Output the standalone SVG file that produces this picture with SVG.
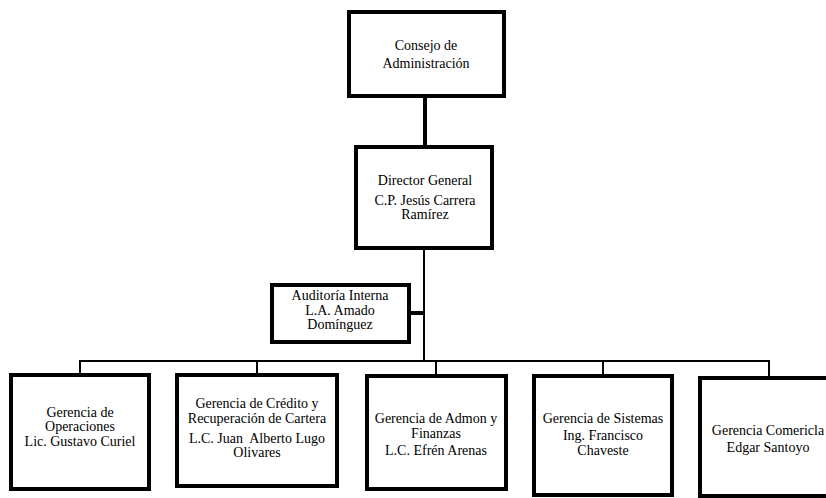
<svg xmlns="http://www.w3.org/2000/svg" width="826" height="498" viewBox="0 0 826 498">
<style>
.box{fill:#fff;stroke:#000;stroke-width:4}
.t{font-family:"Liberation Serif","DejaVu Serif",serif;font-size:14px;fill:#000;text-anchor:middle;white-space:pre}
.c{stroke:#000;fill:none;stroke-width:2}
.ck{stroke:#000;fill:none;stroke-width:4}
</style>
<rect width="826" height="498" fill="#fff"/>
<g id="connectors">
<line class="ck" x1="425" y1="97" x2="425" y2="146"/>
<line class="c" x1="424" y1="249" x2="424" y2="361"/>
<line class="ck" x1="410" y1="313" x2="424" y2="313"/>
<polyline class="c" points="80,374 80,361 769,361 769,376"/>
<line class="c" x1="257" y1="361" x2="257" y2="374"/>
<line class="c" x1="436" y1="361" x2="436" y2="375"/>
<line class="c" x1="603" y1="361" x2="603" y2="375"/>
</g>
<g id="consejo">
<rect class="box" x="349" y="12" width="155" height="84"/>
<text class="t" x="426" y="50">Consejo de</text>
<text class="t" x="426" y="68">Administración</text>
</g>
<g id="director">
<rect class="box" x="356" y="147" width="136" height="101"/>
<text class="t" x="425" y="185">Director General</text>
<text class="t" x="425" y="205">C.P. Jesús Carrera</text>
<text class="t" x="425" y="219">Ramírez</text>
</g>
<g id="auditoria">
<rect class="box" x="272" y="285" width="137" height="57"/>
<text class="t" x="340" y="300">Auditoría Interna</text>
<text class="t" x="340" y="315">L.A. Amado</text>
<text class="t" x="340" y="329">Domínguez</text>
</g>
<g id="operaciones">
<rect class="box" x="11" y="375" width="138" height="114"/>
<text class="t" x="80" y="417">Gerencia de</text>
<text class="t" x="80" y="431">Operaciones</text>
<text class="t" x="80" y="446">Lic. Gustavo Curiel</text>
</g>
<g id="credito">
<rect class="box" x="177" y="375" width="160" height="111"/>
<text class="t" x="257" y="408">Gerencia de Crédito y</text>
<text class="t" x="257" y="423">Recuperación de Cartera</text>
<text class="t" x="257" y="443">L.C. Juan  Alberto Lugo</text>
<text class="t" x="257" y="457">Olivares</text>
</g>
<g id="admon">
<rect class="box" x="367" y="376" width="139" height="113"/>
<text class="t" x="436" y="423">Gerencia de Admon y</text>
<text class="t" x="436" y="438">Finanzas</text>
<text class="t" x="436" y="455">L.C. Efrén Arenas</text>
</g>
<g id="sistemas">
<rect class="box" x="534" y="376" width="138" height="119"/>
<text class="t" x="603" y="423">Gerencia de Sistemas</text>
<text class="t" x="603" y="440">Ing. Francisco</text>
<text class="t" x="603" y="455">Chaveste</text>
</g>
<g id="comercial">
<rect class="box" x="700" y="378" width="140" height="118"/>
<text class="t" x="768" y="435">Gerencia Comericla</text>
<text class="t" x="768" y="452">Edgar Santoyo</text>
</g>
</svg>
